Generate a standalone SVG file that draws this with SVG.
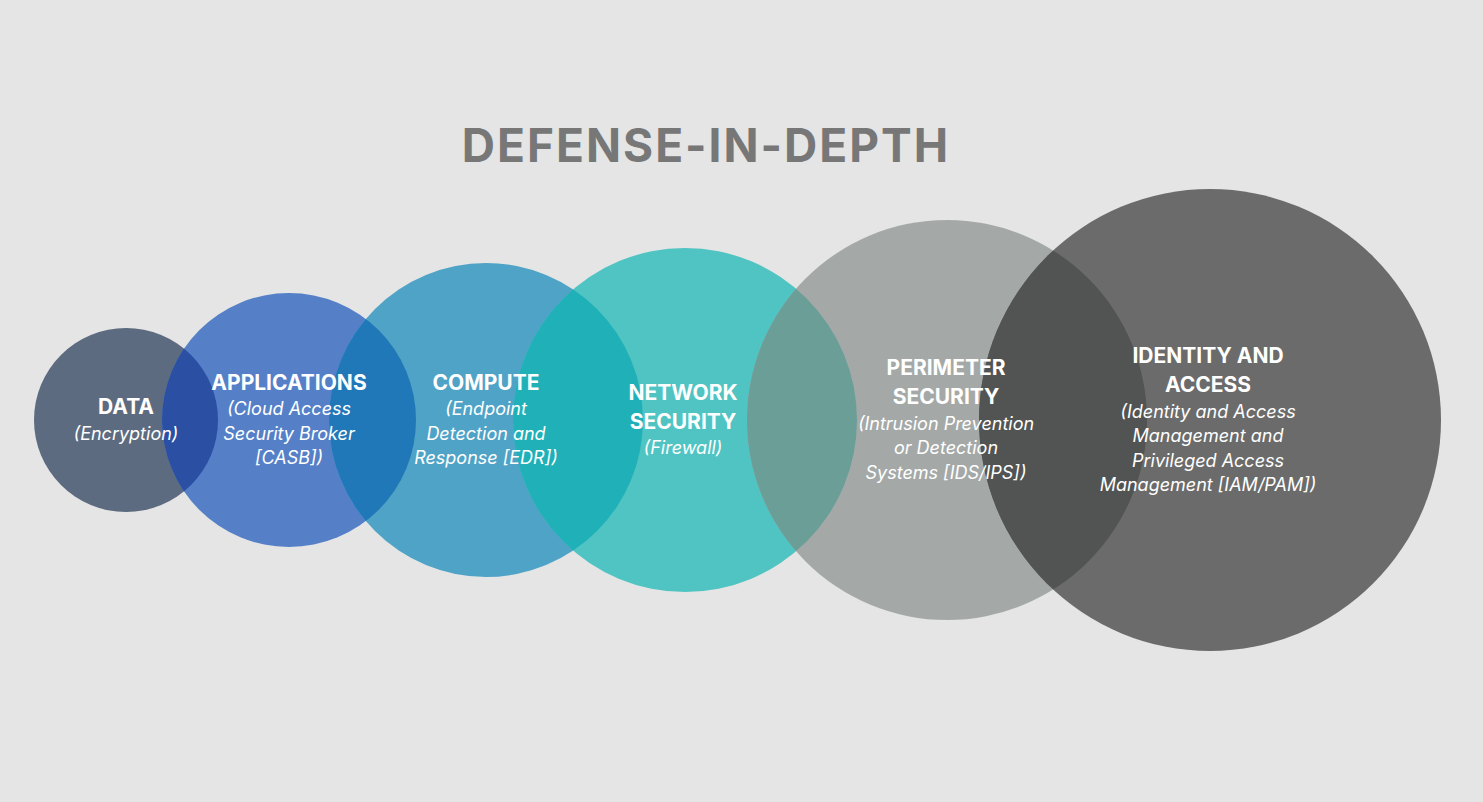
<svg xmlns="http://www.w3.org/2000/svg" width="1483" height="802" viewBox="0 0 1483 802">
<style>
.t{font-family:Inter,"Noto Sans",sans-serif;font-weight:700;font-size:21px;fill:#fff;text-anchor:middle}
.s{font-family:Inter,"Noto Sans",sans-serif;font-style:italic;font-size:18px;fill:#fff;text-anchor:middle}
</style>
<defs>
<clipPath id="c1"><circle cx="126" cy="420" r="92"/></clipPath>
<clipPath id="c2"><circle cx="289" cy="420" r="127"/></clipPath>
<clipPath id="c3"><circle cx="486" cy="420" r="157"/></clipPath>
<clipPath id="c4"><circle cx="685" cy="420" r="172"/></clipPath>
<clipPath id="c5"><circle cx="947" cy="420" r="200"/></clipPath>
</defs>
<rect width="1483" height="802" fill="#e4e5e4"/>
<text x="706" y="162" font-family="Inter,'Noto Sans',sans-serif" font-weight="700" font-size="46" fill="#777" text-anchor="middle" letter-spacing="2">DEFENSE-IN-DEPTH</text>
<g id="data"><circle cx="126" cy="420" r="92" fill="#5d6b80"/></g>
<g id="applications"><circle cx="289" cy="420" r="127" fill="#5580c8"/>
<circle cx="289" cy="420" r="127" fill="#2a4fa3" clip-path="url(#c1)"/></g>
<g id="compute"><circle cx="486" cy="420" r="157" fill="#4fa3c6"/>
<circle cx="486" cy="420" r="157" fill="#2178b8" clip-path="url(#c2)"/></g>
<g id="network"><circle cx="685" cy="420" r="172" fill="#50c4c2"/>
<circle cx="685" cy="420" r="172" fill="#1fb0b8" clip-path="url(#c3)"/></g>
<g id="perimeter"><circle cx="947" cy="420" r="200" fill="#a4a9a8"/>
<circle cx="947" cy="420" r="200" fill="#6c9e98" clip-path="url(#c4)"/></g>
<g id="identity"><circle cx="1210" cy="420" r="231" fill="#6b6b6b"/>
<circle cx="1210" cy="420" r="231" fill="#525453" clip-path="url(#c5)"/></g>
<g id="labels">
<text class="t" x="126" y="414">DATA</text>
<text class="s" x="126" y="440">(Encryption)</text>
<text class="t" x="289" y="390">APPLICATIONS</text>
<text class="s" x="289" y="415">(Cloud Access</text>
<text class="s" x="289" y="440">Security Broker</text>
<text class="s" x="289" y="464">[CASB])</text>
<text class="t" x="486" y="390">COMPUTE</text>
<text class="s" x="486" y="415">(Endpoint</text>
<text class="s" x="486" y="440">Detection and</text>
<text class="s" x="486" y="464">Response [EDR])</text>
<text class="t" x="683" y="400">NETWORK</text>
<text class="t" x="683" y="429">SECURITY</text>
<text class="s" x="683" y="454">(Firewall)</text>
<text class="t" x="946" y="375">PERIMETER</text>
<text class="t" x="946" y="404">SECURITY</text>
<text class="s" x="946" y="430">(Intrusion Prevention</text>
<text class="s" x="946" y="454">or Detection</text>
<text class="s" x="946" y="479">Systems [IDS/IPS])</text>
<text class="t" x="1208" y="363">IDENTITY AND</text>
<text class="t" x="1208" y="392">ACCESS</text>
<text class="s" x="1208" y="418">(Identity and Access</text>
<text class="s" x="1208" y="442">Management and</text>
<text class="s" x="1208" y="467">Privileged Access</text>
<text class="s" x="1208" y="491">Management [IAM/PAM])</text>
</g>
<g id="connectors"/>
</svg>
